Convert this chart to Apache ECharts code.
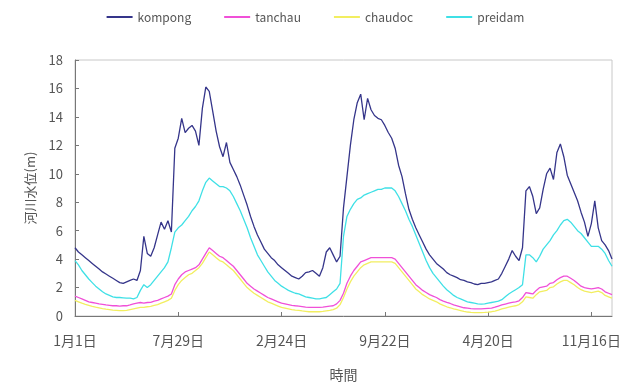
<!DOCTYPE html>
<html>
<head>
<meta charset="utf-8">
<script src="https://cdn.jsdelivr.net/npm/echarts@6/dist/echarts.min.js"></script>
<style>
  html, body { margin: 0; padding: 0; background: #fff; }
  #chart { width: 630px; height: 387px; }
</style>
</head>
<body>
<div id="chart"></div>
<script>
// weekly readings, starting 2000-01-01
var kompong = [
  4.8, 4.5, 4.3, 4.1, 3.9, 3.7, 3.5, 3.3, 3.1, 2.95,
  2.8, 2.65, 2.5, 2.35, 2.3, 2.4, 2.5, 2.6, 2.5, 3.2,
  5.6, 4.4, 4.2, 4.8, 5.7, 6.6, 6.1, 6.7, 5.9, 11.8,
  12.5, 13.9, 12.9, 13.2, 13.4, 13.0, 12.0, 14.6, 16.1, 15.8,
  14.4, 13.0, 11.9, 11.2, 12.2, 10.8, 10.3, 9.8, 9.2, 8.5,
  7.8, 7.0, 6.3, 5.7, 5.2, 4.7, 4.4, 4.1, 3.9, 3.6,
  3.4, 3.2, 3.0, 2.8, 2.7, 2.6, 2.8, 3.05, 3.1, 3.2,
  3.0, 2.8, 3.4, 4.5, 4.8, 4.3, 3.8, 4.2, 7.6, 9.8,
  12.0, 13.8, 15.0, 15.6, 13.8, 15.3, 14.5, 14.1, 13.9, 13.8,
  13.4, 12.9, 12.5, 11.8, 10.6, 9.8, 8.6, 7.5, 6.8, 6.2,
  5.7, 5.2, 4.7, 4.3, 4.0, 3.7, 3.5, 3.3, 3.05, 2.9,
  2.8, 2.7, 2.55, 2.5, 2.4, 2.35, 2.25, 2.2, 2.3, 2.3,
  2.35, 2.4, 2.5, 2.6, 3.0, 3.5, 4.0, 4.6, 4.2, 3.9,
  4.8, 8.8, 9.1, 8.4, 7.2, 7.6, 8.9, 10.0, 10.4, 9.6,
  11.5, 12.1, 11.2, 9.9, 9.3, 8.7, 8.1, 7.3, 6.6, 5.6,
  6.5, 8.1, 6.2, 5.3, 5.0, 4.6, 4.0
];
var tanchau = [
  1.4, 1.3, 1.2, 1.1, 1.0, 0.95, 0.9, 0.85, 0.82, 0.78,
  0.75, 0.72, 0.72, 0.7, 0.72, 0.72, 0.78, 0.85, 0.9, 0.95,
  0.9, 0.95, 0.96, 1.05, 1.1, 1.2, 1.3, 1.4, 1.55, 2.2,
  2.6, 2.9, 3.1, 3.2, 3.3, 3.4, 3.6, 4.0, 4.4, 4.8,
  4.6, 4.4, 4.2, 4.1, 3.9, 3.7, 3.5, 3.2, 2.9, 2.6,
  2.3, 2.1, 1.9, 1.75, 1.6, 1.45, 1.3, 1.2, 1.1, 1.0,
  0.9, 0.85, 0.8, 0.75, 0.72, 0.7, 0.66, 0.62, 0.6, 0.6,
  0.6, 0.6, 0.62, 0.66, 0.7, 0.72, 0.85, 1.1, 1.6, 2.3,
  2.8, 3.2, 3.5, 3.8, 3.9, 4.0, 4.1, 4.1, 4.1, 4.1,
  4.1, 4.1, 4.1, 4.0, 3.7, 3.4, 3.1, 2.8, 2.5, 2.2,
  2.0, 1.8, 1.65, 1.5, 1.4, 1.3, 1.15, 1.05, 0.96, 0.88,
  0.78, 0.72, 0.65, 0.58, 0.55, 0.52, 0.5, 0.5, 0.5, 0.52,
  0.54, 0.56, 0.62, 0.7, 0.78, 0.84, 0.9, 0.96, 1.0, 1.07,
  1.3, 1.65, 1.6, 1.55, 1.8, 2.0, 2.05, 2.1, 2.3, 2.35,
  2.55, 2.7, 2.8, 2.8, 2.65, 2.5, 2.3, 2.1, 2.0, 1.95,
  1.9, 1.95, 2.0, 1.9, 1.7, 1.6, 1.5
];
var chaudoc = [
  1.1, 1.0, 0.9, 0.82, 0.75, 0.68, 0.62, 0.57, 0.52, 0.48,
  0.45, 0.42, 0.4, 0.38, 0.38, 0.4, 0.45, 0.5, 0.55, 0.6,
  0.6, 0.65, 0.68, 0.75, 0.8, 0.9, 1.0, 1.1, 1.25, 1.8,
  2.2, 2.5, 2.7, 2.9, 3.0, 3.2, 3.4, 3.7, 4.1, 4.5,
  4.3, 4.1, 3.9, 3.8, 3.6, 3.4, 3.2, 2.9, 2.6, 2.3,
  2.0, 1.8, 1.6, 1.45, 1.3, 1.15, 1.0, 0.9, 0.8, 0.7,
  0.6, 0.55, 0.5, 0.45, 0.42, 0.4, 0.36, 0.33, 0.3, 0.3,
  0.3, 0.3, 0.32, 0.36, 0.4, 0.45, 0.55, 0.8, 1.3, 1.9,
  2.4, 2.8, 3.1, 3.4, 3.6, 3.7, 3.8, 3.8, 3.8, 3.8,
  3.8, 3.8, 3.8, 3.7, 3.4, 3.1, 2.8, 2.5, 2.2, 1.9,
  1.7, 1.5, 1.35, 1.2, 1.1, 1.0, 0.85, 0.75, 0.65, 0.58,
  0.5, 0.44, 0.38, 0.32, 0.28, 0.25, 0.24, 0.24, 0.24, 0.25,
  0.27, 0.3, 0.35, 0.42, 0.5, 0.56, 0.62, 0.68, 0.72, 0.8,
  1.0, 1.35, 1.3, 1.25, 1.5, 1.7, 1.75, 1.8, 2.0, 2.05,
  2.25, 2.4, 2.5, 2.5, 2.35, 2.2, 2.0, 1.85, 1.75, 1.7,
  1.65, 1.7, 1.75, 1.65, 1.45, 1.35, 1.25
];
var preidam = [
  3.9, 3.6, 3.2, 2.9, 2.6, 2.35, 2.1, 1.9, 1.7, 1.55,
  1.45, 1.35, 1.3, 1.3, 1.28, 1.26, 1.25, 1.2, 1.3, 1.8,
  2.2, 2.0, 2.2, 2.5, 2.8, 3.1, 3.4, 3.8, 4.8, 5.9,
  6.2, 6.4, 6.7, 7.0, 7.4, 7.7, 8.1, 8.8, 9.4, 9.7,
  9.5, 9.3, 9.1, 9.1, 9.0, 8.8, 8.4, 7.9, 7.4, 6.8,
  6.2, 5.5, 4.9, 4.3, 3.9, 3.5, 3.1, 2.8, 2.5, 2.3,
  2.1, 1.95, 1.8, 1.7, 1.6, 1.55, 1.45, 1.35, 1.3, 1.25,
  1.2, 1.2, 1.25, 1.3, 1.5, 1.7, 1.9, 2.3, 5.6, 7.0,
  7.5, 7.9, 8.2, 8.3, 8.5, 8.6, 8.7, 8.8, 8.9, 8.9,
  9.0, 9.0, 9.0, 8.8, 8.4, 7.9, 7.4, 6.8, 6.3, 5.7,
  5.1, 4.5, 3.9, 3.4, 3.0, 2.7, 2.4, 2.1, 1.85, 1.65,
  1.45, 1.3, 1.2, 1.1, 1.0, 0.95, 0.9, 0.85, 0.84, 0.85,
  0.9, 0.95, 1.0, 1.05, 1.15, 1.35, 1.55, 1.7, 1.85, 2.0,
  2.2, 4.3, 4.3, 4.1, 3.8, 4.2, 4.7, 5.0, 5.3, 5.7,
  6.0, 6.4, 6.7, 6.8, 6.6, 6.3, 6.0, 5.8, 5.5, 5.2,
  4.9, 4.9, 4.9, 4.7, 4.4, 3.9, 3.5
];

// date labels, one per week from 1月1日
var days = [];
for (var i = 0; i < kompong.length; i++) {
    var d = new Date(Date.UTC(2000, 0, 1 + i * 7));
    days.push((d.getUTCMonth() + 1) + '月' + d.getUTCDate() + '日');
}

var chart = echarts.init(document.getElementById('chart'), null, {renderer: 'canvas'});

var font = '"Noto Sans CJK JP", "Noto Sans", sans-serif';

function line(name, data, color) {
    return {
        name: name,
        type: 'line',
        data: data,
        showSymbol: false,
        symbol: 'none',
        lineStyle: {color: color, width: 1.3},
        itemStyle: {color: color},
        animation: false
    };
}

var option = {
    backgroundColor: '#fff',
    textStyle: {fontFamily: font},
    legend: {
        top: 6,
        left: 'center',
        itemWidth: 26,
        itemHeight: 2,
        itemGap: 32,
        textStyle: {color: '#555', fontSize: 12, fontFamily: font},
        data: ['kompong', 'tanchau', 'chaudoc', 'preidam']
    },
    grid: {
        left: 75, right: 18, top: 60, bottom: 70,
        show: true, borderColor: '#c8c8c8', borderWidth: 1
    },
    xAxis: {
        type: 'category',
        data: days,
        boundaryGap: false,
        name: '時間',
        nameLocation: 'middle',
        nameGap: 52,
        nameTextStyle: {color: '#555', fontSize: 14, fontFamily: font},
        axisLine: {lineStyle: {color: '#777'}},
        axisTick: {inside: true, interval: 29, length: 4, lineStyle: {color: '#777'}},
        axisLabel: {interval: 29, color: '#555', fontSize: 14, margin: 18, fontFamily: font},
        splitLine: {show: false}
    },
    yAxis: {
        type: 'value',
        min: 0, max: 18, interval: 2,
        name: '河川水位(m)',
        nameLocation: 'middle',
        nameGap: 38,
        nameTextStyle: {color: '#555', fontSize: 13, fontFamily: font},
        axisLine: {show: true, lineStyle: {color: '#777'}},
        axisTick: {show: true, inside: true, length: 4, lineStyle: {color: '#777'}},
        axisLabel: {color: '#555', fontSize: 13, margin: 12, fontFamily: font},
        splitLine: {show: false}
    },
    series: [
        line('kompong', kompong, '#35358a'),
        line('tanchau', tanchau, '#f050d8'),
        line('chaudoc', chaudoc, '#f2ee60'),
        line('preidam', preidam, '#3fe0e6')
    ]
};

chart.setOption(option);
</script>
</body>
</html>
